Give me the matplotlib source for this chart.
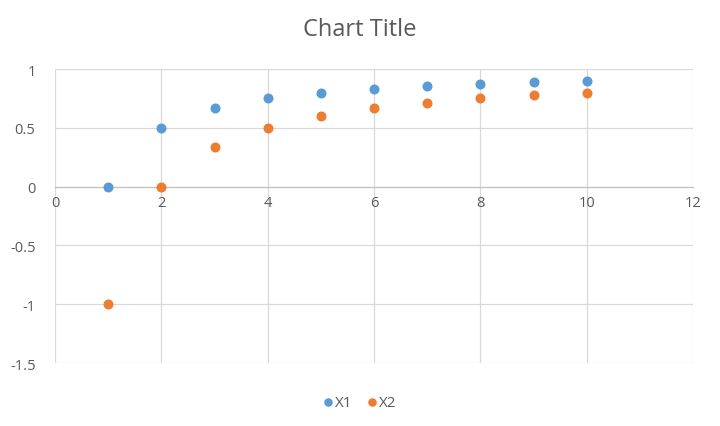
import matplotlib
matplotlib.use("Agg")
import matplotlib.pyplot as plt

plt.rcParams['font.family'] = ['Open Sans', 'DejaVu Sans']

# data
x_vals = [1, 2, 3, 4, 5, 6, 7, 8, 9, 10]
x1 = [0, 0.5, 0.667, 0.75, 0.8, 0.833, 0.857, 0.875, 0.889, 0.9]
x2 = [-1, 0, 0.333, 0.5, 0.6, 0.667, 0.714, 0.75, 0.778, 0.8]
x_ticks = [0, 2, 4, 6, 8, 10, 12]
y_ticks = [-1.5, -1, -0.5, 0, 0.5, 1]
y_labels = ["-1.5", "-1", "-0.5", "0", "0.5", "1"]

text_col = "#595959"
grid_col = "#D9D9D9"

fig = plt.figure(figsize=(7.2, 4.27), dpi=100)
ax = fig.add_axes([0.0764, 0.1475, 0.8861, 0.6885])

ax.scatter(x_vals, x1, s=52, color="#5B9BD5", label="X1", zorder=3, linewidths=0)
ax.scatter(x_vals, x2, s=52, color="#ED7D31", label="X2", zorder=3, linewidths=0)

ax.set_xlim(0, 12)
ax.set_ylim(-1.5, 1)
ax.set_xticks(x_ticks)
ax.set_yticks(y_ticks)
ax.set_yticklabels(y_labels)
ax.grid(True, color=grid_col, linewidth=0.9, zorder=0)
ax.set_axisbelow(True)

for s in ["top", "right", "left"]:
    ax.spines[s].set_visible(False)
ax.spines["bottom"].set_position(("data", 0))
ax.spines["bottom"].set_color("#BFBFBF")

ax.tick_params(axis="both", length=0, colors=text_col, labelsize=10.5)
ax.tick_params(axis="x", pad=6)
ax.tick_params(axis="y", pad=14)

fig.text(0.5, 0.93, "Chart Title", ha="center", va="center", fontsize=17, color=text_col)

leg = fig.legend(loc="center", bbox_to_anchor=(0.5, 0.054), ncol=2, frameon=False,
                 fontsize=11, handlelength=0.6, handletextpad=0.15,
                 columnspacing=1.0, markerscale=0.85)
for t in leg.get_texts():
    t.set_color(text_col)

fig.savefig("out.png", dpi=100)
